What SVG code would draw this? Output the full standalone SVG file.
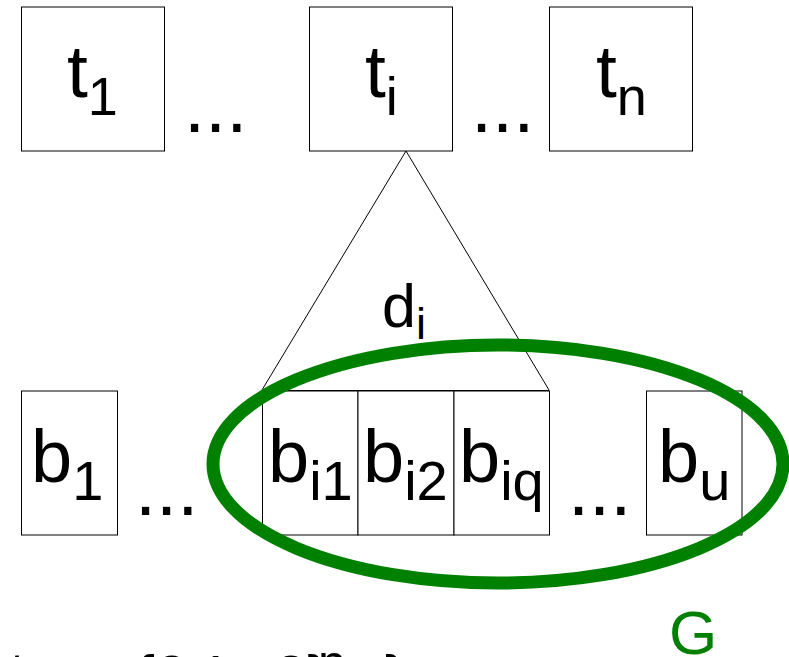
<svg xmlns="http://www.w3.org/2000/svg" width="789" height="657" viewBox="0 0 789 657">
<style>
.box{fill:#fff;stroke:#000;stroke-width:1}
.lbl{font-family:"Liberation Sans",Arial,sans-serif;fill:#000}
.dots{font-family:"Liberation Sans",Arial,sans-serif;font-size:76px;fill:#000}
.edge{stroke:#000;stroke-width:1;fill:none}
.grp{fill:none;stroke:#008000;stroke-width:13}
</style>
<rect width="789" height="657" fill="#fff"/>
<g id="connectors">
<path class="edge" d="M406,151 L262,390 M406,151 L549,390 M262,390.5 L549,390.5"/>
</g>
<g id="t1"><rect class="box" x="21.5" y="7" width="143" height="144"/><text class="lbl" x="67" y="97" font-size="75">t<tspan font-size="54" dy="18">1</tspan></text></g>
<g id="ti"><rect class="box" x="309.5" y="7" width="143" height="144"/><text class="lbl" x="365" y="97" font-size="75">t<tspan font-size="54" dy="18">i</tspan></text></g>
<g id="tn"><rect class="box" x="549.5" y="7" width="143" height="144"/><text class="lbl" x="596" y="97" font-size="75">t<tspan font-size="54" dy="18">n</tspan></text></g>
<text class="dots" x="184" y="132">...</text>
<text class="dots" x="471" y="132">...</text>
<g id="di"><text class="lbl" x="382" y="327" font-size="61">d<tspan font-size="45" dy="12">i</tspan></text></g>
<g id="b1"><rect class="box" x="21.5" y="391" width="96" height="144"/><text class="lbl" x="31" y="482" font-size="74">b<tspan font-size="56" dy="18">1</tspan></text></g>
<g id="bi1"><rect class="box" x="262.5" y="391" width="95.5" height="144"/><text class="lbl" x="268" y="482" font-size="74">b<tspan font-size="56" dy="18">i1</tspan></text></g>
<g id="bi2"><rect class="box" x="358" y="391" width="96" height="144"/><text class="lbl" x="363" y="482" font-size="74">b<tspan font-size="56" dy="18">i2</tspan></text></g>
<g id="biq"><rect class="box" x="454" y="391" width="95.5" height="144"/><text class="lbl" x="459" y="482" font-size="74">b<tspan font-size="56" dy="18">iq</tspan></text></g>
<g id="bu"><rect class="box" x="646.5" y="391" width="95.5" height="144"/><text class="lbl" x="658" y="482" font-size="74">b<tspan font-size="56" dy="18">u</tspan></text></g>
<text class="dots" x="135" y="515">...</text>
<text class="dots" x="568" y="515">...</text>
<g id="G"><ellipse class="grp" cx="498" cy="464" rx="285" ry="119"/><text class="lbl" x="669" y="654" font-size="62" style="fill:#008000">G</text></g>
<text class="lbl" y="697" font-size="60"><tspan x="9" dy="-3">t</tspan><tspan x="135" dy="3">{0,</tspan><tspan x="198">1,</tspan><tspan x="274">2}</tspan><tspan x="318" font-size="50" dy="-17">n</tspan><tspan x="385" dy="17">}</tspan></text>
</svg>
